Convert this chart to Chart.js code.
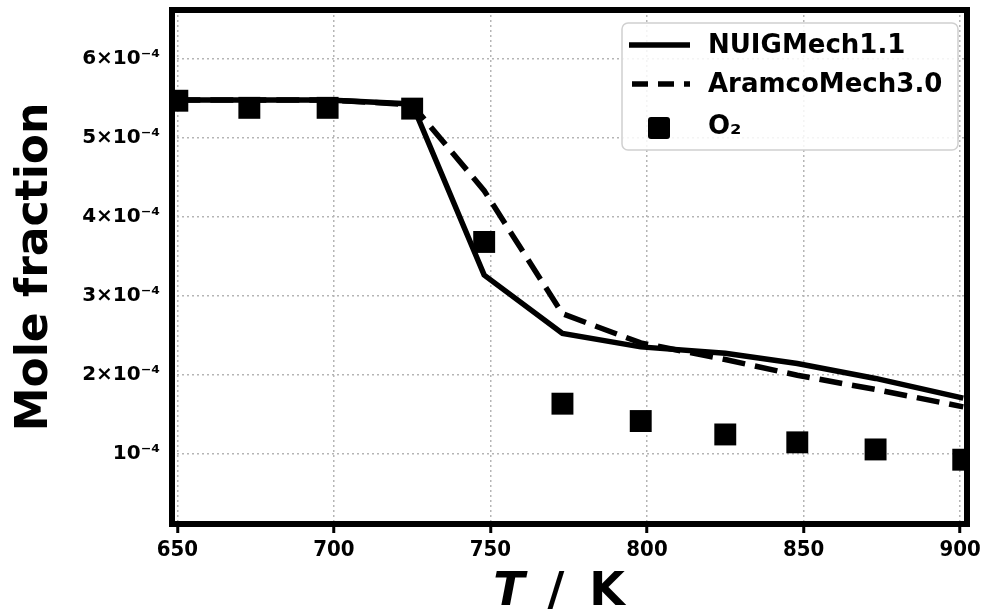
<!DOCTYPE html>
<html>
<head>
<meta charset="utf-8">
<script src="https://cdn.jsdelivr.net/npm/chart.js@4.4.1/dist/chart.umd.min.js"></script>
<style>
	body { margin: 0; background: #fff; }
	#wrap { width: 986px; height: 612px; }
</style>
</head>
<body>
<div id="wrap"><canvas id="grafica" width="986" height="612"></canvas></div>
<script>
// temperaturas (K)
var temperaturas = [650, 673, 698, 725, 748, 773, 798, 825, 848, 873, 901];
// fracciones molares
var o2_exp  = [5.47e-4, 5.38e-4, 5.38e-4, 5.37e-4, 3.68e-4, 1.63e-4, 1.41e-4, 1.24e-4, 1.14e-4, 1.05e-4, 0.92e-4];
var nuig    = [5.48e-4, 5.48e-4, 5.48e-4, 5.43e-4, 3.26e-4, 2.52e-4, 2.35e-4, 2.27e-4, 2.14e-4, 1.95e-4, 1.70e-4];
var aramco  = [5.48e-4, 5.48e-4, 5.48e-4, 5.42e-4, 4.33e-4, 2.77e-4, 2.40e-4, 2.19e-4, 1.99e-4, 1.81e-4, 1.59e-4];

var xTicks = [650, 700, 750, 800, 850, 900];
var yTicks = [1e-4, 2e-4, 3e-4, 4e-4, 5e-4, 6e-4];
var yTickLabels = ["10\u207B\u2074", "2\u00D710\u207B\u2074", "3\u00D710\u207B\u2074", "4\u00D710\u207B\u2074", "5\u00D710\u207B\u2074", "6\u00D710\u207B\u2074"];
var leyenda = ["NUIGMech1.1", "AramcoMech3.0", "O\u2082"];

function puntos(ys){
	return temperaturas.map(function(t, i){ return {x: t, y: ys[i]}; });
}

function sinRelleno(s){
	s.paddingTop = 0; s.paddingBottom = 0; s.paddingLeft = 0; s.paddingRight = 0;
}

// marco negro grueso + leyenda + titulo del eje x
var extras = {
	id: "extras",
	afterDraw: function(chart){
		var c = chart.ctx, a = chart.chartArea;
		c.save();
		c.strokeStyle = "#000";
		c.lineWidth = 6;
		c.strokeRect(a.left, a.top, a.right - a.left, a.bottom - a.top);

		// leyenda
		var bx = 622, by = 23, bw = 336, bh = 127;
		c.beginPath();
		c.roundRect(bx, by, bw, bh, 6);
		c.fillStyle = "rgba(255,255,255,0.85)";
		c.fill();
		c.lineWidth = 1.5;
		c.strokeStyle = "#d0d0d0";
		c.stroke();

		var filas = [45, 84, 126];
		c.strokeStyle = "#000";
		c.fillStyle = "#000";
		c.lineWidth = 5.5;
		c.setLineDash([]);
		c.beginPath(); c.moveTo(629, filas[0]); c.lineTo(690, filas[0]); c.stroke();
		c.setLineDash([16, 10]);
		c.beginPath(); c.moveTo(632, filas[1]); c.lineTo(690, filas[1]); c.stroke();
		c.setLineDash([]);
		c.beginPath(); c.roundRect(648, 117, 22, 22, 3); c.fill();

		c.font = "bold 26px 'DejaVu Sans'";
		c.textBaseline = "middle";
		c.textAlign = "left";
		for (var i = 0; i < leyenda.length; i++) {
			c.fillText(leyenda[i], 708, filas[i] + 1);
		}

		// T / K
		c.textBaseline = "alphabetic";
		c.textAlign = "center";
		c.font = "italic bold 46px 'DejaVu Sans'";
		c.fillText("T", 509, 605);
		c.font = "bold 46px 'DejaVu Sans'";
		c.fillText("/", 556, 605);
		c.fillText("K", 607, 605);
		c.restore();
	}
};

var ctx = document.getElementById("grafica").getContext("2d");
var grafica = new Chart(ctx, {
	type: "line",
	data: {
		datasets: [
			{
				label: leyenda[0],
				data: puntos(nuig),
				borderColor: "#000",
				borderWidth: 5.5,
				pointRadius: 0,
				tension: 0,
				order: 1,
			},
			{
				label: leyenda[1],
				data: puntos(aramco),
				borderColor: "#000",
				borderWidth: 5.5,
				borderDash: [23, 10],
				pointRadius: 0,
				tension: 0,
				order: 2,
			},
			{
				label: leyenda[2],
				data: puntos(o2_exp),
				showLine: false,
				pointStyle: "rect",
				pointRadius: 15.5,
				pointHoverRadius: 15.5,
				pointBackgroundColor: "#000",
				pointBorderWidth: 0,
				order: 0,
			},
		],
	},
	options: {
		responsive: false,
		animation: false,
		events: [],
		layout: { autoPadding: false, padding: { top: 10, right: 19, left: 0, bottom: 0 } },
		plugins: {
			legend: { display: false },
			tooltip: { enabled: false },
		},
		scales: {
			x: {
				type: "linear",
				min: 648.3,
				max: 902.2,
				afterBuildTicks: function(s){ s.ticks = xTicks.map(function(v){ return {value: v}; }); },
				afterFit: function(s){ s.height = 88; sinRelleno(s); },
				grid: {
					color: "#b5b5b5",
					lineWidth: 1.5,
					tickColor: "#000",
					tickWidth: 3,
					tickLength: 9,
					tickBorderDash: [],
				},
				border: { display: false, dash: [2, 3] },
				ticks: {
					color: "#000",
					padding: 4,
					maxRotation: 0,
					font: { family: "'DejaVu Sans Condensed', 'DejaVu Sans'", weight: "bold", size: 22 },
					callback: function(v){ return v; },
				},
			},
			y: {
				type: "linear",
				min: 0.105e-4,
				max: 6.62e-4,
				afterBuildTicks: function(s){ s.ticks = yTicks.map(function(v){ return {value: v}; }); },
				afterFit: function(s){ s.width = 172; sinRelleno(s); },
				grid: {
					color: "#b5b5b5",
					lineWidth: 1.5,
					drawTicks: false,
				},
				border: { display: false, dash: [2, 3] },
				ticks: {
					color: "#000",
					padding: 12,
					font: { family: "'DejaVu Sans'", weight: "bold", size: 20 },
					callback: function(v){
						var i = yTicks.indexOf(v);
						return i >= 0 ? yTickLabels[i] : "";
					},
				},
				title: {
					display: true,
					text: "Mole fraction",
					color: "#000",
					font: { family: "'DejaVu Sans'", weight: "bold", size: 44 },
					padding: { top: 9, bottom: 0 },
				},
			},
		},
	},
	plugins: [extras],
});
</script>
</body>
</html>
